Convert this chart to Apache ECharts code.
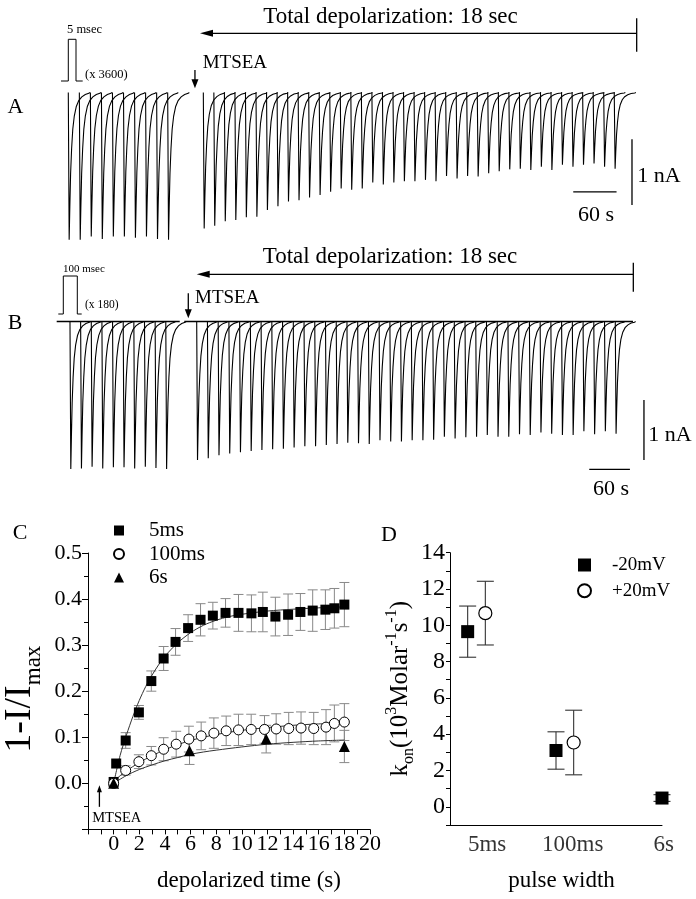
<!DOCTYPE html>
<html><head><meta charset="utf-8">
<script src="https://cdn.jsdelivr.net/npm/echarts@6/dist/echarts.min.js"></script>
<style>html,body{margin:0;padding:0;background:#fff}#c{width:696px;height:899px}</style>
</head><body><div id="c"></div>
<script>
const FONT = "'Liberation Serif','Times New Roman',serif";

// ---------- Panels A & B : current sweeps (amplitudes in nA, times in s) ----------
// normalised shape of one sweep (time after pulse onset, fraction of peak)
const spikeDt   = [0, 1.2, 2.1, 3.2, 4.6, 6.2, 8.3, 11.1, 14.5, 18.7, 23.5, 28.4, 30];
const spikeFrac = [0, 1, 0.78, 0.55, 0.38, 0.25, 0.16, 0.095, 0.055, 0.03, 0.014, 0.006, 0];

const aPreStart = 11.5,  aPreStep = 15.3;
const aPreAmp  = [2.24, 2.24, 2.19, 2.23, 2.19, 2.19, 2.21, 2.19, 2.23, 2.24];
const aPostStart = 198.6, aPostStep = 14.6;
const aPostAmp = [2.07, 2.03, 1.96, 1.94, 1.90, 1.89, 1.79, 1.73, 1.66, 1.64,
                  1.60, 1.56, 1.51, 1.46, 1.48, 1.46, 1.37, 1.40, 1.37, 1.35,
                  1.35, 1.33, 1.35, 1.27, 1.31, 1.27, 1.28, 1.23, 1.20, 1.17,
                  1.16, 1.18, 1.13, 1.18, 1.10, 1.13, 1.10, 1.08, 1.13, 1.16];

const bPreStart = 22.1, bPreStep = 15.7;
const bPreAmp  = [2.46, 2.45, 2.42, 2.45, 2.43, 2.43, 2.45, 2.42, 2.44, 2.46];
const bPostStart = 209, bPostStep = 15.83;
const bPostAmp = [2.31, 2.28, 2.23, 2.20, 2.18, 2.16, 2.14, 2.13, 2.12, 2.10,
                  2.08, 2.08, 2.06, 2.04, 2.02, 2.03, 2.04, 1.98, 2.00, 2.00,
                  1.98, 1.98, 1.97, 1.92, 1.95, 1.93, 1.92, 1.89, 1.92, 1.92,
                  1.88, 1.89, 1.85, 1.87, 1.89, 1.89, 1.83, 1.88, 1.83, 1.87];
const bBaselines = [[2.5, 184], [190.7, 852.5]];

// annotation segments [x1, y1, x2, y2, headLen(px), headHalfWidth(px)]
const aMarks = [[799.1, 0.90, 194, 0.90, 13, 3.5], [799.1, 1.13, 799.1, 0.62, 0, 0],
                [187, 0.342, 187, 0.064, 9, 3.5],
                [792.6, -0.712, 792.6, -1.712, 0, 0], [711.2, -1.514, 771.2, -1.514, 0, 0]];
const bMarks = [[853, 0.787, 209, 0.787, 13, 3.5], [853, 0.98, 853, 0.497, 0, 0],
                [196.6, 0.47, 196.6, 0.053, 9, 3.5],
                [868.7, -1.308, 868.7, -2.308, 0, 0], [788, -2.463, 848, -2.463, 0, 0]];

// ---------- Panel C ----------
const c5t = [0, 0.2, 0.94, 1.97, 2.94, 3.90, 4.83, 5.81, 6.78, 7.74, 8.73, 9.74, 10.75, 11.64, 12.62, 13.61, 14.57, 15.53, 16.52, 17.22, 18.0];
const c5v = [0.003, 0.043, 0.093, 0.154, 0.222, 0.271, 0.307, 0.337, 0.355, 0.364, 0.370, 0.370, 0.369, 0.372, 0.362, 0.366, 0.372, 0.375, 0.377, 0.380, 0.388];
const c5e = [0, 0, 0.017, 0.015, 0.022, 0.026, 0.029, 0.029, 0.035, 0.029, 0.031, 0.04, 0.04, 0.043, 0.042, 0.045, 0.04, 0.045, 0.043, 0.043, 0.048];
const c100t = [0, 0.94, 1.97, 2.94, 3.90, 4.88, 5.87, 6.83, 7.82, 8.78, 9.74, 10.73, 11.77, 12.68, 13.66, 14.62, 15.61, 16.57, 17.22, 18.0];
const c100v = [0, 0.028, 0.047, 0.06, 0.074, 0.085, 0.096, 0.103, 0.109, 0.114, 0.116, 0.117, 0.117, 0.118, 0.119, 0.12, 0.119, 0.122, 0.13, 0.133];
const c100e = [0, 0.01, 0.015, 0.02, 0.025, 0.028, 0.028, 0.03, 0.033, 0.032, 0.034, 0.033, 0.03, 0.033, 0.035, 0.035, 0.035, 0.038, 0.04, 0.04];
const c6t = [0, 5.92, 11.9, 18.0];
const c6v = [0, 0.071, 0.096, 0.08];
const c6e = [0, 0.03, 0.03, 0.035];
const fitT    = [0, 0.5, 1, 1.5, 2, 2.5, 3, 3.5, 4, 5, 6, 7, 8, 9, 10, 12, 14, 16, 18];
const fit5v   = [0, 0.06, 0.105, 0.145, 0.18, 0.21, 0.235, 0.257, 0.276, 0.305, 0.327, 0.343, 0.354, 0.362, 0.367, 0.374, 0.378, 0.381, 0.383];
const fitT2   = [0, 1, 2, 3, 4, 5, 6, 7, 8, 10, 12, 14, 16, 18];
const fit100v = [0.005, 0.027, 0.045, 0.06, 0.073, 0.084, 0.093, 0.1, 0.106, 0.115, 0.121, 0.126, 0.129, 0.131];
const fit6v   = [0, 0.017, 0.03, 0.04, 0.049, 0.056, 0.063, 0.068, 0.072, 0.079, 0.085, 0.089, 0.092, 0.094];
const cMarks = [[-1.11, -0.051, -1.11, -0.004, 7, 2.5]];

// ---------- Panel D ----------
const dCatNames = ['5ms', '100ms', '6s'];
const dCatPos   = [0.42, 1.39, 2.42];
const dNegX = [0.2, 1.2, 2.4], dNegY = [9.65, 3.1, 0.48], dNegE = [1.41, 1.03, 0.185];
const dPosX = [0.4, 1.4],      dPosY = [10.67, 3.54],     dPosE = [1.755, 1.78];

// ---------- helpers ----------
const zip2 = (a, b) => a.map((v, i) => [v, b[i]]);
const zip3 = (a, b, c) => a.map((v, i) => [v, b[i], c[i]]);
function sweeps(start, step, amps) {
  return amps.map((a, i) => ({ coords: spikeDt.map((d, k) => [start + i * step + d, -a * spikeFrac[k]]) }));
}
function errRender(capHalf, color, width) {
  return function (params, api) {
    const x = api.value(0), y = api.value(1), e = api.value(2);
    if (!e) return null;
    const t = api.coord([x, y + e]), b = api.coord([x, y - e]);
    const st = { stroke: color, lineWidth: width };
    return { type: 'group', children: [
      { type: 'line', shape: { x1: t[0], y1: t[1], x2: b[0], y2: b[1] }, style: st },
      { type: 'line', shape: { x1: t[0] - capHalf, y1: t[1], x2: t[0] + capHalf, y2: t[1] }, style: st },
      { type: 'line', shape: { x1: b[0] - capHalf, y1: b[1], x2: b[0] + capHalf, y2: b[1] }, style: st }
    ] };
  };
}
function arrowRender(params, api) {
  const p1 = api.coord([api.value(0), api.value(1)]);
  const p2 = api.coord([api.value(2), api.value(3)]);
  const hl = api.value(4), hw = api.value(5);
  const children = [];
  const dx = p2[0] - p1[0], dy = p2[1] - p1[1], L = Math.hypot(dx, dy);
  const ux = dx / L, uy = dy / L;
  const end = hl ? [p2[0] - ux * hl * 0.8, p2[1] - uy * hl * 0.8] : p2;
  children.push({ type: 'line', shape: { x1: p1[0], y1: p1[1], x2: end[0], y2: end[1] }, style: { stroke: '#000', lineWidth: 1.3 } });
  if (hl) {
    const bx = p2[0] - ux * hl, by = p2[1] - uy * hl;
    children.push({ type: 'polygon', shape: { points: [p2, [bx - uy * hw, by + ux * hw], [bx + uy * hw, by - ux * hw]] }, style: { fill: '#000' } });
  }
  return { type: 'group', children };
}
const txt = (x, y, text, size, align) => ({ type: 'text', x, y, style: { text, fontFamily: FONT, fontSize: size, fill: '#000', align: align || 'left', verticalAlign: 'middle' } });

const hiddenAxis = (g, min, max) => ({ gridIndex: g, type: 'value', min, max, show: false });
const axisLbl = { fontFamily: FONT, color: '#000' };

const option = {
  animation: false,
  backgroundColor: '#fff',
  grid: [
    { left: 60, top: 0.5, width: 606.2, height: 243.1, outerBoundsMode: 'none' },
    { left: 55, top: 243.5, width: 637.3, height: 252, outerBoundsMode: 'none' },
    { left: 88, top: 553, width: 282, height: 276.4, outerBoundsMode: 'none' },
    { left: 450, top: 552.7, width: 212, height: 272.2, outerBoundsMode: 'none' }
  ],
  xAxis: [
    hiddenAxis(0, 0, 840),
    hiddenAxis(1, 0, 940),
    { gridIndex: 2, type: 'value', min: -2, max: 20, interval: 2,
      axisLine: { onZero: false, lineStyle: { color: '#000', width: 1 } },
      axisTick: { inside: false, length: 5, lineStyle: { color: '#000' } },
      minorTick: { show: true, splitNumber: 2, length: 5, lineStyle: { color: '#000' } },
      splitLine: { show: false },
      axisLabel: Object.assign({ fontSize: 22, margin: 4, formatter: v => (v < 0 ? '' : String(v)) }, axisLbl),
      name: 'depolarized time (s)', nameLocation: 'middle', nameGap: 40,
      nameTextStyle: { fontFamily: FONT, fontSize: 23, color: '#000', padding: [0, 0, 0, 40] } },
    { gridIndex: 3, type: 'value', min: 0, max: 2.4,
      axisLine: { onZero: false, lineStyle: { color: '#000', width: 1 } },
      axisTick: { show: false }, axisLabel: { show: false }, splitLine: { show: false },
      name: 'pulse width', nameLocation: 'middle', nameGap: 45,
      nameTextStyle: { fontFamily: FONT, fontSize: 23, color: '#000', padding: [0, 0, 0, 11] } }
  ],
  yAxis: [
    hiddenAxis(0, -2.3, 1.4),
    hiddenAxis(1, -2.9, 1.3),
    { gridIndex: 2, type: 'value', min: -0.1, max: 0.5, interval: 0.1,
      axisLine: { show: true, onZero: false, lineStyle: { color: '#000', width: 1 } },
      axisTick: { show: true, inside: false, length: 6, lineStyle: { color: '#000' } },
      minorTick: { show: true, splitNumber: 2, length: 4, lineStyle: { color: '#000' } },
      splitLine: { show: false },
      axisLabel: Object.assign({ fontSize: 22, margin: 6, formatter: v => (v < -0.01 ? '' : v.toFixed(1)) }, axisLbl),
      name: '{a|1-I/I}{b|max}', nameLocation: 'middle', nameRotate: 90, nameGap: 43,
      nameTextStyle: { color: '#000', padding: [0, 16, 0, 0], rich: {
        a: { fontFamily: FONT, fontSize: 38, color: '#000', padding: [0, 0, 6, 0] },
        b: { fontFamily: FONT, fontSize: 23, color: '#000', verticalAlign: 'bottom' } } } },
    { gridIndex: 3, type: 'value', min: -1, max: 14, interval: 1,
      axisLine: { show: true, onZero: false, lineStyle: { color: '#000', width: 1 } },
      axisTick: { show: true, inside: false, length: 4, lineStyle: { color: '#000' } },
      splitLine: { show: false },
      axisLabel: Object.assign({ fontSize: 24, margin: 5, formatter: v => (v >= 0 && v % 2 === 0 ? String(v) : '') }, axisLbl),
      name: '{a|k}{s|on}{a|(10}{p|3}{a|Molar}{p|-1}{a|s}{p|-1}{a|)}', nameLocation: 'middle', nameRotate: 90, nameGap: 28,
      nameTextStyle: { color: '#000', rich: {
        a: { fontFamily: FONT, fontSize: 25, color: '#000', padding: [4, 0, 4, 0] },
        s: { fontFamily: FONT, fontSize: 16, color: '#000', verticalAlign: 'bottom' },
        p: { fontFamily: FONT, fontSize: 16, color: '#000', verticalAlign: 'top' } } } }
  ],
  legend: [
    { orient: 'vertical', left: 113, top: 520, padding: 0, itemWidth: 10, itemHeight: 10, itemGap: 2.5,
      selectedMode: false, data: ['5ms', '100ms', '6s'],
      textStyle: { fontFamily: FONT, fontSize: 21, color: '#000', padding: [0, 0, 0, 20] } },
    { orient: 'vertical', left: 577, top: 555.5, padding: 0, itemWidth: 13, itemHeight: 13, itemGap: 6.7,
      selectedMode: false, data: ['-20mV', '+20mV'],
      textStyle: { fontFamily: FONT, fontSize: 19, color: '#000', padding: [0, 0, 0, 16] } }
  ],
  graphic: [
    txt(15.5, 107.7, 'A', 22, 'center'), txt(15, 323.3, 'B', 22, 'center'),
    txt(20, 533, 'C', 22, 'center'), txt(389, 535, 'D', 22, 'center'),
    txt(67, 30, '5 msec', 12.5), txt(85, 75, '(x 3600)', 12.5),
    txt(63, 269.3, '100 msec', 11), txt(85, 305, '(x 180)', 11.5),
    txt(390.5, 16.7, 'Total depolarization: 18 sec', 23, 'center'),
    txt(390, 256.7, 'Total depolarization: 18 sec', 23, 'center'),
    txt(202.7, 63.3, 'MTSEA', 19), txt(195, 298.3, 'MTSEA', 19),
    txt(637.3, 176.7, '1 nA', 22), txt(648.3, 435, '1 nA', 22),
    txt(596, 215, '60 s', 22, 'center'), txt(611, 489, '60 s', 22, 'center'),
    txt(116.7, 818.3, 'MTSEA', 14.5, 'center'),
    { type: 'polyline', shape: { points: [[61, 81], [68.3, 81], [68.3, 39.3], [76, 39.3], [76, 81], [82.7, 81]] }, style: { stroke: '#000', lineWidth: 1, fill: null } },
    { type: 'polyline', shape: { points: [[58.3, 314], [63.3, 314], [63.3, 276], [77.3, 276], [77.3, 314], [81.7, 314]] }, style: { stroke: '#000', lineWidth: 1, fill: null } }
  ],
  series: [
    // Panel A traces
    { type: 'lines', coordinateSystem: 'cartesian2d', xAxisIndex: 0, yAxisIndex: 0, polyline: true, silent: true,
      lineStyle: { color: '#000', width: 1.1, opacity: 1 },
      data: sweeps(aPreStart, aPreStep, aPreAmp).concat(sweeps(aPostStart, aPostStep, aPostAmp)) },
    // Panel B traces
    { type: 'lines', coordinateSystem: 'cartesian2d', xAxisIndex: 1, yAxisIndex: 1, polyline: true, silent: true,
      lineStyle: { color: '#000', width: 1.1, opacity: 1 },
      data: sweeps(bPreStart, bPreStep, bPreAmp).concat(sweeps(bPostStart, bPostStep, bPostAmp))
        .concat(bBaselines.map(s => ({ coords: [[s[0], 0], [s[1], 0]], lineStyle: { width: 1.6 } }))) },
    // annotations A/B/C
    { type: 'custom', xAxisIndex: 0, yAxisIndex: 0, renderItem: arrowRender, data: aMarks, silent: true, clip: false },
    { type: 'custom', xAxisIndex: 1, yAxisIndex: 1, renderItem: arrowRender, data: bMarks, silent: true, clip: false },
    { type: 'custom', xAxisIndex: 2, yAxisIndex: 2, renderItem: arrowRender, data: cMarks, silent: true, clip: false },
    // Panel C error bars
    { type: 'custom', xAxisIndex: 2, yAxisIndex: 2, renderItem: errRender(5, '#888', 1), data: zip3(c5t, c5v, c5e), encode: { x: 0, y: 1 }, z: 1, silent: true },
    { type: 'custom', xAxisIndex: 2, yAxisIndex: 2, renderItem: errRender(5, '#888', 1), data: zip3(c100t, c100v, c100e), encode: { x: 0, y: 1 }, z: 1, silent: true },
    { type: 'custom', xAxisIndex: 2, yAxisIndex: 2, renderItem: errRender(5, '#888', 1), data: zip3(c6t, c6v, c6e), encode: { x: 0, y: 1 }, z: 1, silent: true },
    // Panel C fits
    { type: 'line', xAxisIndex: 2, yAxisIndex: 2, data: zip2(fitT, fit5v), smooth: 0.3, showSymbol: false, lineStyle: { color: '#333', width: 1 }, z: 2, silent: true },
    { type: 'line', xAxisIndex: 2, yAxisIndex: 2, data: zip2(fitT2, fit100v), smooth: 0.3, showSymbol: false, lineStyle: { color: '#333', width: 1 }, z: 2, silent: true },
    { type: 'line', xAxisIndex: 2, yAxisIndex: 2, data: zip2(fitT2, fit6v), smooth: 0.3, showSymbol: false, lineStyle: { color: '#333', width: 1 }, z: 2, silent: true },
    // Panel C points
    { name: '5ms', type: 'scatter', xAxisIndex: 2, yAxisIndex: 2, symbol: 'rect', symbolSize: 10, data: zip2(c5t, c5v), itemStyle: { color: '#000', opacity: 1 }, z: 3 },
    { name: '100ms', type: 'scatter', xAxisIndex: 2, yAxisIndex: 2, symbol: 'circle', symbolSize: 10, data: zip2(c100t, c100v), itemStyle: { color: '#fff', borderColor: '#000', borderWidth: 1, opacity: 1 }, z: 3 },
    { name: '6s', type: 'scatter', xAxisIndex: 2, yAxisIndex: 2, symbol: 'triangle', symbolSize: 11, data: zip2(c6t, c6v), itemStyle: { color: '#000', opacity: 1 }, z: 4 },
    // Panel D
    { type: 'custom', xAxisIndex: 3, yAxisIndex: 3, renderItem: errRender(8.5, '#333', 1.1), data: zip3(dNegX, dNegY, dNegE), encode: { x: 0, y: 1 }, z: 1, silent: true, clip: false },
    { type: 'custom', xAxisIndex: 3, yAxisIndex: 3, renderItem: errRender(8.5, '#333', 1.1), data: zip3(dPosX, dPosY, dPosE), encode: { x: 0, y: 1 }, z: 1, silent: true, clip: false },
    { name: '-20mV', type: 'scatter', xAxisIndex: 3, yAxisIndex: 3, symbol: 'rect', symbolSize: 13, data: zip2(dNegX, dNegY), itemStyle: { color: '#000', opacity: 1 }, z: 3, clip: false },
    { name: '+20mV', type: 'scatter', xAxisIndex: 3, yAxisIndex: 3, symbol: 'circle', symbolSize: 13, data: zip2(dPosX, dPosY), itemStyle: { color: '#fff', borderColor: '#000', borderWidth: 1.2, opacity: 1 }, z: 3, clip: false },
    { type: 'scatter', xAxisIndex: 3, yAxisIndex: 3, symbolSize: 0, clip: false, silent: true,
      data: dCatPos.map((p, i) => ({ value: [p, -1], name: dCatNames[i] })),
      label: { show: true, position: 'inside', offset: [0, 20], formatter: p => p.name, fontFamily: FONT, fontSize: 23, color: '#000' } }
  ]
};
const chart = echarts.init(document.getElementById('c'), null, { renderer: 'canvas' });
chart.setOption(option);
</script></body></html>
